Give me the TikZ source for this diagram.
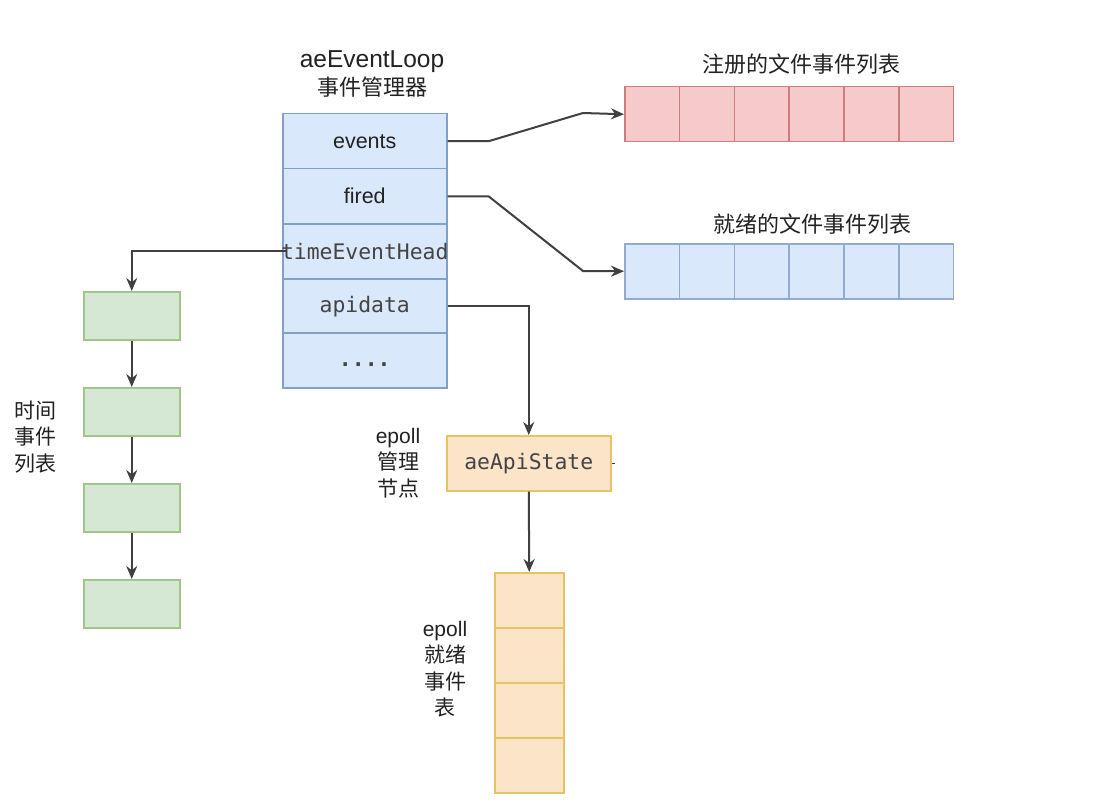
\documentclass[tikz,border=0pt]{standalone}
\usepackage{fontspec}
\setmainfont{Liberation Sans}
\setmonofont{DejaVu Sans Mono}
\newfontfamily\cjk{Noto Sans CJK SC}
\usetikzlibrary{arrows.meta}
\newcommand\eplabfont{\rmfamily\fontsize{21}{24}\selectfont}
\definecolor{bfill}{HTML}{DAE8FC}\definecolor{bdraw}{HTML}{6C8EBF}
\definecolor{rfill}{HTML}{F6CACB}\definecolor{rdraw}{HTML}{B85450}
\definecolor{gfill}{HTML}{D5E8D4}\definecolor{gdraw}{HTML}{82B366}
\definecolor{ofill}{HTML}{FCE4C9}\definecolor{odraw}{HTML}{D79B00}
\definecolor{txt}{HTML}{222222}
\definecolor{mtxt}{HTML}{444444}
\begin{document}
\begin{tikzpicture}[x=1pt,y=-1pt,
  cell/.style={draw=bdraw!85,fill=bfill,line width=1.5pt,minimum width=164pt,minimum height=55pt,inner sep=0pt,inner xsep=-4pt,anchor=north west},
  rcell/.style={draw=rdraw!75,fill=rfill,line width=1.5pt,minimum width=54.8pt,minimum height=55pt,inner sep=0pt,anchor=north west},
  bcell/.style={draw=bdraw!75,fill=bfill,line width=1.5pt,minimum width=54.8pt,minimum height=55pt,inner sep=0pt,anchor=north west},
  gcell/.style={draw=gdraw!75,fill=gfill,line width=1.5pt,minimum width=96pt,minimum height=48pt,inner sep=0pt,anchor=north west},
  ocell/.style={draw=odraw!60,fill=ofill,line width=1.5pt,minimum width=69pt,minimum height=55pt,inner sep=0pt,anchor=north west},
  snode/.style={draw=odraw!60,fill=ofill,line width=1.5pt,minimum width=164pt,minimum height=55pt,inner sep=0pt,anchor=north west},
  lab/.style={text=txt,font=\fontsize{21.5}{24}\selectfont},
  mlab/.style={text=mtxt,font=\ttfamily\fontsize{21.4}{24}\selectfont},
  cjklab/.style={text=txt,font=\cjk\fontsize{21}{26.5}\selectfont,align=center},
  conn/.style={draw=black!75,line width=2pt},
  arr/.style={conn,-{Stealth[length=13pt,width=11pt]}}
]
\useasboundingbox (0,0) rectangle (1115,805);
\fill[white] (0,0) rectangle (1115,805);
% titles
\node[text=txt,font=\fontsize{24.5}{28}\selectfont,align=center] (title) at (372,74) {aeEventLoop\\{\cjk\fontsize{22}{26}\selectfont 事件管理器}};
% main stack
\node[cell,lab] (ev) at (282,113) {events};
\node[cell,lab] (fi) at (282,168) {fired};
\node[cell,mlab] (te) at (282,223) {timeEventHead};
\node[cell,mlab] (ap) at (282,278) {apidata};
\node[cell,mlab] (dots) at (282,332) {\raisebox{-6pt}[0pt][0pt]{\bfseries....}};
% registered array
\node[cjklab,font=\cjk\fontsize{22}{26}\selectfont] (regt) at (801,64) {注册的文件事件列表};
\foreach \i in {0,...,5}{\node[rcell] (r\i) at (624+\i*54.8,86) {};}
% ready array
\node[cjklab,font=\cjk\fontsize{22}{26}\selectfont] (rdyt) at (812,224) {就绪的文件事件列表};
\foreach \i in {0,...,5}{\node[bcell] (b\i) at (624+\i*54.8,243) {};}
% time event list
\node[gcell] (g0) at (83,291) {};
\node[gcell] (g1) at (83,387) {};
\node[gcell] (g2) at (83,483) {};
\node[gcell] (g3) at (83,579) {};
\node[cjklab,align=left] (tl) at (35,437) {时间\\事件\\列表};
% epoll
\node[snode,mlab] (st) at (446,435) {aeApiState};
\node[cjklab] (epl) at (398,463) {{\eplabfont epoll}\\管理\\节点};
\foreach \i in {0,...,3}{\node[ocell] (o\i) at (494,572+\i*55) {};}
\node[cjklab] (epr) at (445,669) {{\eplabfont epoll}\\就绪\\事件\\表};
% connectors
\draw[arr] (ev.east) -- ++(41,0) -- (583,113) -- (r0.west);
\draw[arr] (fi.east) -- ++(41,0) -- (583,271) -- (b0.west);
\draw[arr] (te.west) ++(5,0) coordinate (tes) -- (g0.north |- tes) -- (g0.north);
\draw[arr] (g0.south) -- (g1.north);
\draw[arr] (g1.south) -- (g2.north);
\draw[arr] (g2.south) -- (g3.north);
\draw[arr] (ap.east) -- (st.north |- ap.east) -- (st.north);
\draw[arr] (st.south) -- (o0.north);
\draw[conn,line width=1.3pt] (st.east) -- ++(3,0) coordinate (tick);
\end{tikzpicture}
\end{document}
